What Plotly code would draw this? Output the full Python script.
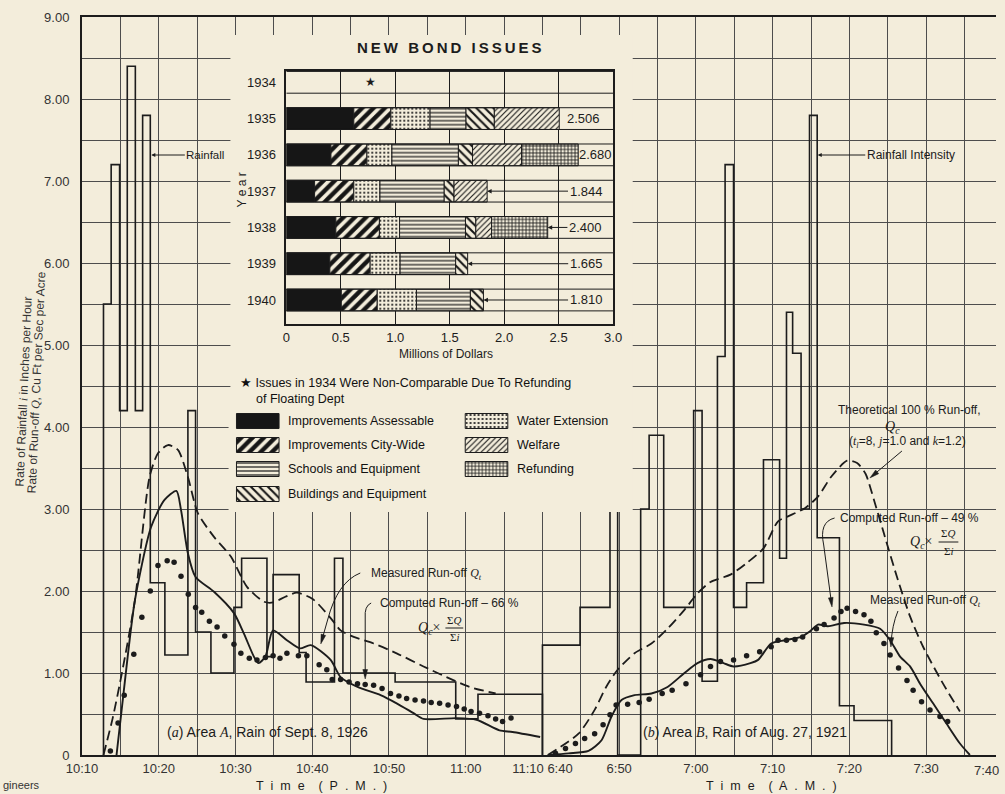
import math
import plotly.graph_objects as go

BG = '#f3eddb'
INK = '#1c1c1c'
GRID = '#4d4d4d'
SANS = 'Liberation Sans'
SERIF = 'Liberation Serif'

# ---------------- main chart data ----------------
# time axis: minutes after 10:10 P.M. (panel a, 0..60) and 60 + minutes after 6:40 A.M. (panel b)
tick_minutes = [0, 10, 20, 30, 40, 50, 60, 70, 80, 90, 100, 110]
tick_labels = ['10:10', '10:20', '10:30', '10:40', '10:50', '11:00', '11:10 6:40',
               '6:50', '7:00', '7:10', '7:20', '7:30']
y_tick_values = [0, 1, 2, 3, 4, 5, 6, 7, 8, 9]
y_tick_labels = ['0', '1.00', '2.00', '3.00', '4.00', '5.00', '6.00', '7.00', '8.00', '9.00']

# rainfall (panel a) - step start times and intensities
rain_a_start = [2.8, 3.8, 4.9, 5.9, 6.95, 7.9, 8.9, 10.8, 13.8, 14.8, 16.8, 19.8, 20.8,
                24.1, 24.9, 28.3, 29.2, 32.9, 34.0, 40.8, 48.7, 51.6]
rain_a = [5.5, 7.2, 4.2, 8.4, 4.2, 7.8, 2.1, 1.22, 4.2, 1.5, 1.0, 1.8, 2.4,
          1.2, 2.2, 1.25, 0.89, 2.4, 1.0, 0.89, 0.44, 0.74]
rain_a_end = 60.0

# rainfall intensity (panel b)
rain_b_start = [60.0, 64.9, 68.8, 69.8, 72.8, 73.9, 75.8, 79.7, 80.8, 82.8, 83.8, 84.9,
                86.6, 88.8, 90.9, 91.8, 92.6, 93.7, 94.8, 95.8, 98.7, 100.6]
rain_b = [1.34, 1.8, 3.6, 0.0, 3.0, 3.9, 1.8, 4.2, 0.9, 4.86, 7.2, 1.8,
          2.1, 3.6, 2.4, 5.4, 4.9, 3.0, 7.8, 2.65, 0.6, 0.42]
rain_b_end = 105.5

# theoretical 100% run-off Qc (dashed)
theo_a_t = [2.8, 4.0, 5.2, 6.9, 8.8, 9.9, 11.2, 12.5, 13.8, 15.1, 17.2, 19.4, 21.5, 23.7,
            24.9, 26.5, 28.0, 30.1, 32.4, 33.7, 35.4, 38.0, 41.0, 44.5, 47.5, 50.5, 53.9]
theo_a = [0, 0.45, 1.0, 1.89, 3.39, 3.68, 3.78, 3.72, 3.39, 2.95, 2.66, 2.42, 2.05, 1.87,
          1.86, 1.93, 1.98, 1.90, 1.67, 1.52, 1.44, 1.36, 1.24, 1.08, 0.95, 0.83, 0.75]
theo_b_t = [60.7, 64.7, 66.8, 68.3, 69.8, 72.0, 74.2, 76.3, 78.5, 80.2, 81.9, 84.5, 86.6,
            88.8, 90.7, 92.0, 94.2, 95.9, 97.6, 99.7, 101.0, 102.1, 103.2, 104.5, 106.2,
            107.9, 109.6, 112.2, 114.4]
theo_b = [0, 0.26, 0.55, 0.83, 1.04, 1.24, 1.36, 1.54, 1.77, 1.97, 2.11, 2.2, 2.34,
          2.52, 2.85, 2.91, 3.01, 3.15, 3.39, 3.59, 3.56, 3.43, 3.11, 2.70, 2.17,
          1.69, 1.32, 0.87, 0.53]

# measured run-off Qt (solid)
meas_a_t = [4.5, 6.0, 6.9, 9.0, 10.75, 12.3, 12.9, 13.8, 14.8, 17.2, 19.8, 21.1, 22.4, 23.0,
            23.9, 24.9, 26.7, 28.4, 29.8, 32.4, 33.7, 35.9, 38.9, 41.0, 43.2, 44.5, 48.8,
            51.4, 54.4, 56.1, 59.7]
meas_a = [0, 1.24, 1.89, 2.78, 3.11, 3.22, 2.99, 2.46, 2.17, 1.99, 1.73, 1.48, 1.2, 1.12,
          1.2, 1.52, 1.40, 1.30, 1.34, 1.16, 0.95, 0.83, 0.73, 0.63, 0.51, 0.44, 0.45,
          0.43, 0.30, 0.28, 0.22]
meas_b_t = [60.7, 63.4, 66.0, 67.7, 69.0, 70.3, 72.0, 74.2, 76.3, 78.5, 80.2, 81.9, 83.6,
            84.9, 87.1, 88.1, 89.8, 91.6, 93.7, 95.0, 95.9, 97.2, 99.3, 101.9, 104.0,
            105.3, 106.6, 107.9, 109.2, 110.9, 112.6, 114.4, 115.7]
meas_b = [0, 0.02, 0.05, 0.18, 0.47, 0.67, 0.73, 0.75, 0.83, 1.0, 1.12, 1.17, 1.12,
          1.08, 1.12, 1.16, 1.36, 1.40, 1.44, 1.52, 1.59, 1.57, 1.61, 1.59, 1.54,
          1.40, 1.20, 1.08, 0.87, 0.63, 0.39, 0.14, 0]

# computed run-off (dots)
comp_a_t = [3.7, 4.7, 5.5, 6.75, 7.8, 8.9, 9.9, 11.1, 12.0, 12.9, 13.85, 14.8, 15.6, 16.6,
            17.6, 18.6, 19.8, 20.7, 21.8, 22.8, 23.9, 24.9, 25.8, 26.7, 28.2, 29.3, 30.9,
            31.9, 32.6, 33.7, 34.8, 35.9, 36.9, 38.0, 39.1, 40.2, 41.3, 42.3, 43.4, 44.5,
            45.5, 46.6, 47.7, 48.8, 49.8, 50.7, 51.8, 52.9, 53.9, 54.8, 55.9]
comp_a = [0.05, 0.39, 0.73, 1.23, 1.68, 2.0, 2.31, 2.37, 2.35, 2.18, 1.96, 1.80, 1.74, 1.63,
          1.56, 1.45, 1.35, 1.24, 1.18, 1.16, 1.19, 1.21, 1.18, 1.24, 1.21, 1.21, 1.10,
          1.04, 0.92, 0.92, 0.89, 0.87, 0.86, 0.85, 0.81, 0.75, 0.72, 0.69, 0.67, 0.66,
          0.64, 0.63, 0.61, 0.59, 0.56, 0.53, 0.51, 0.48, 0.44, 0.41, 0.45]
comp_b_t = [61.7, 63.0, 64.3, 65.5, 66.8, 67.9, 68.8, 69.6, 71.1, 72.6, 73.9, 75.6, 76.9,
            78.7, 80.6, 81.9, 83.2, 84.9, 86.6, 88.3, 89.8, 90.7, 91.8, 92.9, 93.9, 95.7,
            96.7, 98.0, 98.9, 99.7, 100.8, 101.9, 102.8, 103.5, 104.5, 105.3, 106.4,
            107.5, 108.3, 109.4, 110.5, 111.8, 112.8]
comp_b = [0.02, 0.08, 0.14, 0.20, 0.26, 0.37, 0.49, 0.61, 0.62, 0.64, 0.68, 0.75, 0.79,
          0.87, 0.98, 1.08, 1.14, 1.16, 1.21, 1.26, 1.32, 1.40, 1.40, 1.41, 1.44, 1.54,
          1.59, 1.67, 1.75, 1.79, 1.75, 1.71, 1.63, 1.49, 1.36, 1.22, 1.06,
          0.91, 0.79, 0.65, 0.55, 0.47, 0.41]

# ---------------- inset: new bond issues (millions of dollars) ----------------
bond_years = [1935, 1936, 1937, 1938, 1939, 1940]
improvements_assessable = [0.62, 0.41, 0.26, 0.455, 0.40, 0.505]
improvements_citywide = [0.34, 0.33, 0.36, 0.40, 0.37, 0.33]
water_extension = [0.36, 0.23, 0.24, 0.185, 0.275, 0.36]
schools_equipment = [0.33, 0.61, 0.59, 0.605, 0.51, 0.495]
buildings_equipment = [0.26, 0.13, 0.09, 0.095, 0.11, 0.12]
welfare = [0.596, 0.45, 0.304, 0.145, 0.0, 0.0]
refunding = [0.0, 0.52, 0.0, 0.515, 0.0, 0.0]
bond_totals = [2.506, 2.680, 1.844, 2.400, 1.665, 1.810]
bond_total_labels = ['2.506', '2.680', '1.844', '2.400', '1.665', '1.810']
all_years = [1934, 1935, 1936, 1937, 1938, 1939, 1940]
inset_ticks = [0, 0.5, 1.0, 1.5, 2.0, 2.5, 3.0]
inset_ticklabels = ['0', '0.5', '1.0', '1.5', '2.0', '2.5', '3.0']

# ---------------- helpers (layout only) ----------------
L, R, T, B = 82, 1005, 17, 755


def px(x):
    return (x - L) / (R - L)


def py(y):
    return (B - y) / (B - T)


def steps(starts, vals, end):
    xs, ys = [starts[0]], [0]
    for s, v in zip(starts, vals):
        xs.append(s)
        ys.append(v)
    xs.append(end)
    ys.append(0)
    return xs, ys


fig = go.Figure()

# ---- main traces
for st, vv, en in [(rain_a_start, rain_a, rain_a_end), (rain_b_start, rain_b, rain_b_end)]:
    xs, ys = steps(st, vv, en)
    fig.add_trace(go.Scatter(x=xs, y=ys, mode='lines', line=dict(color=INK, width=1.6, shape='hv'),
                             hoverinfo='skip'))
for tx, ty in [(theo_a_t, theo_a), (theo_b_t, theo_b)]:
    fig.add_trace(go.Scatter(x=tx, y=ty, mode='lines',
                             line=dict(color=INK, width=1.8, dash='10px,5px', shape='spline', smoothing=0.7),
                             hoverinfo='skip'))
for tx, ty in [(meas_a_t, meas_a), (meas_b_t, meas_b)]:
    fig.add_trace(go.Scatter(x=tx, y=ty, mode='lines',
                             line=dict(color=INK, width=1.9, shape='spline', smoothing=0.7),
                             hoverinfo='skip'))
for tx, ty in [(comp_a_t, comp_a), (comp_b_t, comp_b)]:
    fig.add_trace(go.Scatter(x=tx, y=ty, mode='markers', marker=dict(color=INK, size=5.5),
                             hoverinfo='skip'))

# ---- cover (paper coloured panel behind the inset)
fig.add_trace(go.Scatter(x=[0, 1, 1, 0, 0], y=[0, 0, 1, 1, 0], xaxis='x2', yaxis='y2', mode='lines',
                         fill='toself', fillcolor=BG, line=dict(width=0, color=BG), hoverinfo='skip'))

# ---- inset bars
segments = [
    ('Improvements Assessable', improvements_assessable, None),
    ('Improvements City-Wide', improvements_citywide, dict(shape='/', size=8, solidity=0.55)),
    ('Water Extension', water_extension, dict(shape='.', size=4, solidity=0.22)),
    ('Schools and Equipment', schools_equipment, dict(shape='-', size=4, solidity=0.3)),
    ('Buildings and Equipment', buildings_equipment, dict(shape='\\', size=6, solidity=0.35)),
    ('Welfare', welfare, dict(shape='/', size=4, solidity=0.28)),
    ('Refunding', refunding, dict(shape='+', size=3.5, solidity=0.4)),
]


def marker_for(pat):
    if pat is None:
        return dict(color='#161616', line=dict(color=INK, width=1))
    p = dict(pat)
    p.update(fgcolor='#161616', bgcolor=BG, fillmode='replace')
    return dict(color=BG, pattern=p, line=dict(color=INK, width=1))


cum = [0.0] * len(bond_years)
for name, vals, pat in segments:
    ys_, xs_, bs_ = [], [], []
    for i, v in enumerate(vals):
        if v > 0:
            ys_.append(bond_years[i])
            xs_.append(v)
            bs_.append(cum[i])
        cum[i] += v
    fig.add_trace(go.Bar(y=ys_, x=xs_, base=bs_, orientation='h', width=0.6, name=name,
                         marker=marker_for(pat), xaxis='x3', yaxis='y3', hoverinfo='skip'))

# ---- legend swatches (drawn as bars so they carry the same patterns)
legend_rows = [421, 445, 469, 494]
legend_items = [
    (0, 0, 'Improvements Assessable'), (0, 1, 'Improvements City-Wide'),
    (0, 2, 'Schools and Equipment'), (0, 3, 'Buildings and Equipment'),
    (1, 0, 'Water Extension'), (1, 1, 'Welfare'), (1, 2, 'Refunding'),
]
col_x = [238, 469]
pat_by_name = {n: p for n, _, p in segments}
for col, row, name in legend_items:
    fig.add_trace(go.Bar(y=[legend_rows[row]], x=[43], base=[col_x[col]], orientation='h', width=15,
                         marker=marker_for(pat_by_name[name]), xaxis='x4', yaxis='y4', hoverinfo='skip'))
    fig.add_annotation(x=px(col_x[col] + 50), y=py(legend_rows[row]), xref='paper', yref='paper',
                       text=name, showarrow=False, xanchor='left', yanchor='middle',
                       font=dict(family=SANS, size=12.5, color='#111'))

# ---- inset band lines
for yr in all_years:
    for edge in (yr - 0.3, yr + 0.3):
        fig.add_shape(type='line', xref='x3', yref='y3', x0=0, x1=3, y0=edge, y1=edge,
                      line=dict(color=INK, width=1), layer='above')

# ---- inset annotations
for yr, tot, lab in zip(bond_years, bond_totals, bond_total_labels):
    if yr == 1935:
        fig.add_annotation(x=2.73, y=yr, xref='x3', yref='y3', text=lab, showarrow=False,
                           font=dict(family=SANS, size=13, color=INK))
    elif yr == 1936:
        fig.add_annotation(x=2.84, y=yr, xref='x3', yref='y3', text=lab, showarrow=False,
                           font=dict(family=SANS, size=13, color=INK))
    else:
        head_px = 288.3 + 110 * tot
        fig.add_annotation(x=tot, y=yr, xref='x3', yref='y3', text=lab, showarrow=True,
                           ax=590 - head_px, ay=0, arrowhead=2, arrowsize=0.9, arrowwidth=1,
                           arrowcolor=INK, font=dict(family=SANS, size=13, color=INK))
fig.add_annotation(x=0.77, y=1934, xref='x3', yref='y3', text='★', showarrow=False,
                   font=dict(family='DejaVu Sans', size=12, color=INK))


def txt(x, y, text, size=12, xanchor='center', family=SANS, color=INK, angle=0, yanchor='middle'):
    fig.add_annotation(x=px(x), y=py(y), xref='paper', yref='paper', text=text, showarrow=False,
                       xanchor=xanchor, yanchor=yanchor, textangle=angle,
                       font=dict(family=family, size=size, color=color))


def arrow(hx, hy, tx, ty, text, size=12):
    fig.add_annotation(x=px(hx), y=py(hy), xref='paper', yref='paper', text=text, showarrow=True,
                       ax=tx - hx, ay=ty - hy, arrowhead=2, arrowsize=0.8, arrowwidth=1,
                       arrowcolor=INK, standoff=0,
                       font=dict(family=SANS, size=size, color=INK))


def leader(points, size=6.5):
    """Leader line through pixel points (quadratic bends) ending in a filled arrowhead."""
    (x0, y0) = points[0]
    d = f'M {px(x0)},{py(y0)}'
    rest = points[1:]
    for pt in rest:
        if len(pt) == 4:
            d += f' Q {px(pt[0])},{py(pt[1])} {px(pt[2])},{py(pt[3])}'
        else:
            d += f' L {px(pt[0])},{py(pt[1])}'
    fig.add_shape(type='path', xref='paper', yref='paper', path=d, line=dict(color=INK, width=1))
    hx, hy = rest[-1][-2], rest[-1][-1]
    if len(rest[-1]) == 4:
        bx, by = rest[-1][0], rest[-1][1]
    elif len(rest) > 1:
        bx, by = rest[-2][-2], rest[-2][-1]
    else:
        bx, by = x0, y0
    ang = math.atan2(hy - by, hx - bx)
    ux, uy = math.cos(ang), math.sin(ang)
    nx, ny = -uy, ux
    tipx, tipy = hx + ux * 3, hy + uy * 3
    b1 = (hx - ux * size + nx * 2.4, hy - uy * size + ny * 2.4)
    b2 = (hx - ux * size - nx * 2.4, hy - uy * size - ny * 2.4)
    fig.add_shape(type='path', xref='paper', yref='paper',
                  path=f'M {px(tipx)},{py(tipy)} L {px(b1[0])},{py(b1[1])} L {px(b2[0])},{py(b2[1])} Z',
                  fillcolor=INK, line=dict(color=INK, width=0.5))


TS = '\u2009'
txt(453, 47, '<b>' + TS.join('NEW BOND ISSUES') + '</b>', size=15)
txt(244, 190, 'Y e a r', size=12, angle=-90)
txt(450, 354, 'Millions of Dollars', size=12)
txt(240, 383, '★ Issues in 1934 Were Non-Comparable Due To Refunding', size=12.5, xanchor='left', color='#111')
txt(256, 399, 'of Floating Dept', size=12.5, xanchor='left', color='#111')

# ---- main annotations
arrow(152, 155, 206, 155, 'Rainfall', size=11.5)
arrow(825, 155, 918, 155, 'Rainfall Intensity', size=12)

I = lambda s: "<span style=\"font-family:'Liberation Serif'\"><i>" + s + "</i></span>"

txt(918, 410, 'Theoretical 100 % Run-off,', size=12)
txt(900, 427, I('Q<sub>c</sub>'), size=14, family=SERIF)
txt(916, 442, '(' + I('t<sub>l</sub>') + '=8, ' + I('j') + '=1.0 and ' + I('k') + '=1.2)', size=12)
leader([(910, 451), (880, 476)])

txt(918, 518, 'Computed Run-off – 49 %', size=12)
txt(942, 542, I('Q<sub>c</sub>') + '×', size=14, family=SERIF, xanchor='right')
txt(957, 533, 'Σ' + I('Q'), size=11, family=SERIF)
txt(957, 551, 'Σ' + I('i'), size=11, family=SERIF)
fig.add_shape(type='line', xref='paper', yref='paper', x0=px(947), x1=px(967), y0=py(542), y1=py(542),
              line=dict(color=INK, width=1))
leader([(842, 518), (826, 522, 831, 545), (839, 604)])

txt(934, 601, 'Measured Run-off ' + I('Q<sub>t</sub>'), size=12)
leader([(906, 611), (900, 625, 899, 644)])

txt(430, 574, 'Measured Run-off ' + I('Q<sub>t</sub>'), size=12)
leader([(363, 573), (340, 582, 330, 620), (324, 641)])

txt(453, 603, 'Computed Run-off – 66 %', size=12)
txt(446, 628, I('Q<sub>c</sub>') + '×', size=14, family=SERIF, xanchor='right')
txt(458, 620, 'Σ' + I('Q'), size=11, family=SERIF)
txt(458, 637, 'Σ' + I('i'), size=11, family=SERIF)
fig.add_shape(type='line', xref='paper', yref='paper', x0=px(449), x1=px(467), y0=py(628), y1=py(628),
              line=dict(color=INK, width=1))
leader([(374, 603), (367, 606, 368, 618), (368, 676)])

txt(269, 732, '(' + I('a') + ') Area ' + I('A') + ', Rain of Sept. 8, 1926', size=14)
txt(752, 732, '(' + I('b') + ') Area ' + I('B') + ', Rain of Aug. 27, 1921', size=14)

# axis titles / extra labels
SP = '\u00a0 '
txt(324, 786, SP.join(['T', 'i', 'm', 'e', '', '(', 'P', '.', 'M', '.', ')']), size=12.5)
txt(778, 786, SP.join(['T', 'i', 'm', 'e', '', '(', 'A', '.', 'M', '.', ')']), size=12.5)
txt(995, 770, '7:40', size=13, color='#333')
# the scanned axis title sits very slightly tilted on the page
txt(23, 392, 'Rate of Rainfall ' + I('i') + ' in Inches per Hour', size=12, angle=-87.5, color='#333')
txt(36, 382, 'Rate of Run-off ' + I('Q') + ', Cu Ft per Sec per Acre', size=12, angle=-87.5, color='#333')
txt(0, 785, 'gineers', size=11, xanchor='left', color='#333')

# ---- axes
inset_x = [px(288.3), px(618.3)]
inset_y = [py(324.3), py(70.7)]

fig.update_layout(
    width=1005, height=794,
    paper_bgcolor=BG, plot_bgcolor=BG,
    margin=dict(l=L, r=1005 - R, t=T, b=794 - B),
    showlegend=False, barmode='overlay',
    xaxis=dict(domain=[0, 1], range=[0, 119.1], tickmode='array', tickvals=tick_minutes, ticktext=tick_labels,
               showgrid=True, gridcolor=GRID, gridwidth=1, zeroline=False,
               minor=dict(tickmode='linear', tick0=0, dtick=5, showgrid=True, gridcolor=GRID, gridwidth=1, ticks=''),
               showline=True, linecolor=INK, linewidth=2, mirror=True, ticks='',
               tickfont=dict(family=SANS, size=13, color='#333')),
    yaxis=dict(domain=[0, 1], range=[0, 9], tickmode='array', tickvals=y_tick_values, ticktext=y_tick_labels,
               showgrid=True, gridcolor=GRID, gridwidth=1, zeroline=False,
               minor=dict(tickmode='linear', tick0=0, dtick=0.5, showgrid=True, gridcolor=GRID, gridwidth=1, ticks=''),
               showline=True, linecolor=INK, linewidth=2, ticks='', ticklabelstandoff=8,
               tickfont=dict(family=SANS, size=13, color='#333')),
    xaxis2=dict(domain=[px(232), px(638)], range=[0, 1], visible=False, anchor='y2'),
    yaxis2=dict(domain=[py(512), py(35)], range=[0, 1], visible=False, anchor='x2'),
    xaxis3=dict(domain=inset_x, range=[0, 3], tickvals=inset_ticks, ticktext=inset_ticklabels,
                showgrid=True, gridcolor=INK, gridwidth=1, zeroline=False, anchor='y3',
                showline=True, linecolor=INK, linewidth=1.5, mirror=True, ticks='',
                tickfont=dict(family=SANS, size=13, color=INK)),
    yaxis3=dict(domain=inset_y, range=[1940.67, 1933.68], tickvals=all_years,
                ticktext=[str(y) for y in all_years], showgrid=False, zeroline=False, anchor='x3',
                showline=True, linecolor=INK, linewidth=1.5, mirror=True, ticks='',
                ticklabelstandoff=6, tickfont=dict(family=SANS, size=13, color=INK)),
    xaxis4=dict(domain=[px(230), px(520)], range=[230, 520], visible=False, anchor='y4'),
    yaxis4=dict(domain=[py(510), py(405)], range=[510, 405], visible=False, anchor='x4'),
)

fig.write_html('out.html', config={'displayModeBar': False},
               post_script="document.body.style.margin='0';document.body.style.background='" + BG + "';")
